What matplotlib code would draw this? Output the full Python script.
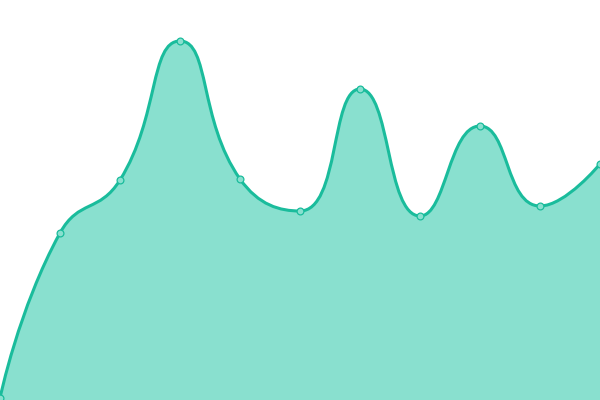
import matplotlib
matplotlib.use('Agg')
import matplotlib.pyplot as plt
from matplotlib.path import Path
from matplotlib.patches import PathPatch
import numpy as np

# data
categories = list(range(11))
values = [2, 167, 220, 359, 221, 189, 311, 184, 274, 194, 236]

LINE_COLOR = '#1abc9c'
FILL_COLOR = '#89e0cf'
SMOOTH = 0.5
X_PX = 60.0  # pixels per category step, used only for the smoothing geometry


def smooth_controls(px, py, smooth=SMOOTH):
    # echarts-like bezier control points, computed in pixel space
    n = len(px)
    segs = []
    cp0 = (px[0], py[0])
    for i in range(1, n):
        x, y = px[i], py[i]
        prev_x, prev_y = px[i - 1], py[i - 1]
        if i == n - 1:
            cp1 = (x, y)
            nxt = (x, y)
        else:
            nx, ny = px[i + 1], py[i + 1]
            vx, vy = nx - prev_x, ny - prev_y
            dx0, dy0 = x - prev_x, y - prev_y
            dx1, dy1 = nx - x, ny - y
            len_prev = np.hypot(dx0, dy0)
            len_next = np.hypot(dx1, dy1)
            ratio = len_next / (len_next + len_prev)
            ncx = x + vx * smooth * ratio
            ncy = y + vy * smooth * ratio
            ncx = max(min(ncx, max(nx, x)), min(nx, x))
            ncy = max(min(ncy, max(ny, y)), min(ny, y))
            vx, vy = ncx - x, ncy - y
            c1x = x - vx * len_prev / len_next
            c1y = y - vy * len_prev / len_next
            c1x = max(min(c1x, max(prev_x, x)), min(prev_x, x))
            c1y = max(min(c1y, max(prev_y, y)), min(prev_y, y))
            vx, vy = x - c1x, y - c1y
            ncx = x + vx * len_next / len_prev
            ncy = y + vy * len_next / len_prev
            cp1 = (c1x, c1y)
            nxt = (ncx, ncy)
        segs.append((cp0, cp1, (x, y)))
        cp0 = nxt
    return segs


def main():
    xs = np.array(categories, dtype=float)
    ys = np.array(values, dtype=float)
    segs = smooth_controls(xs * X_PX, ys)

    verts = [(xs[0], ys[0])]
    codes = [Path.MOVETO]
    for c0, c1, p in segs:
        for v in (c0, c1, p):
            verts.append((v[0] / X_PX, v[1]))
            codes.append(Path.CURVE4)
    line_path = Path(verts, codes)

    fill_verts = verts + [(xs[-1], 0), (xs[0], 0), (xs[0], ys[0])]
    fill_codes = codes + [Path.LINETO, Path.LINETO, Path.CLOSEPOLY]
    fill_path = Path(fill_verts, fill_codes)

    fig = plt.figure(figsize=(6, 4), dpi=100)
    ax = fig.add_axes([0, 0, 1, 1])
    ax.add_patch(PathPatch(fill_path, facecolor=FILL_COLOR, edgecolor='none', zorder=1))
    ax.add_patch(PathPatch(line_path, facecolor='none', edgecolor=LINE_COLOR, lw=2.2,
                           capstyle='round', joinstyle='round', zorder=2))
    ax.scatter(xs, ys, s=24, facecolor=FILL_COLOR, edgecolor=LINE_COLOR, linewidths=0.9,
               zorder=3, clip_on=False)
    ax.set_xlim(0, 10)
    ax.set_ylim(0, 400)
    ax.axis('off')
    fig.savefig('out.png', dpi=100)
    plt.close(fig)


if __name__ == '__main__':
    main()
